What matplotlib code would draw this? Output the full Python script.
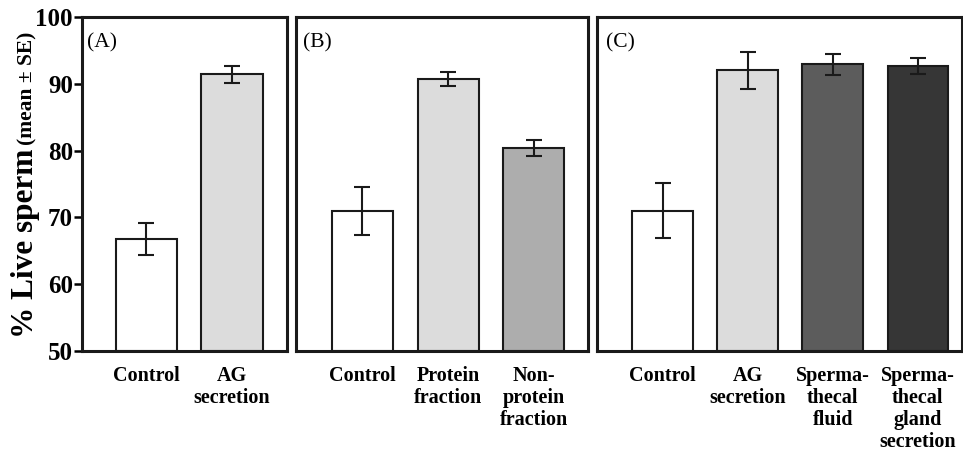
import matplotlib
matplotlib.use("Agg")
import matplotlib.pyplot as plt

plt.rcParams['font.family'] = ['Liberation Serif', 'DejaVu Serif']

# Values (mean, SE)
labels_a = ['Control', 'AG\nsecretion']
means_a = [66.7, 91.4]
se_a = [2.4, 1.3]

labels_b = ['Control', 'Protein\nfraction', 'Non-\nprotein\nfraction']
means_b = [71.0, 90.7, 80.4]
se_b = [3.6, 1.1, 1.2]

labels_c = ['Control', 'AG\nsecretion', 'Sperma-\nthecal\nfluid', 'Sperma-\nthecal\ngland\nsecretion']
means_c = [71.0, 92.0, 92.9, 92.7]
se_c = [4.1, 2.8, 1.6, 1.2]

colors_a = ['white', '#dcdcdc']
colors_b = ['white', '#dcdcdc', '#adadad']
colors_c = ['white', '#dcdcdc', '#5c5c5c', '#363636']

fig = plt.figure(figsize=(9.63, 4.51), dpi=100)
W, H = 963, 451


def add_panel(left, right, xlim, labels, means, se, colors, tag):
    ax = fig.add_axes([left / W, 1 - 351 / H, (right - left) / W, (351 - 17) / H])
    x = range(len(means))
    ax.bar(x, [m - 50 for m in means], bottom=50, width=0.71, color=colors,
           edgecolor='#1a1a1a', linewidth=1.5, zorder=2)
    ax.errorbar(x, means, yerr=se, fmt='none', ecolor='#1a1a1a',
                elinewidth=1.5, capsize=5.5, capthick=1.5, zorder=3)
    ax.set_xlim(*xlim)
    ax.set_ylim(50, 100)
    ax.set_xticks(list(x))
    ax.set_xticklabels(labels, fontsize=14.5, fontweight='bold', linespacing=1.12,
                       va='top')
    ax.tick_params(axis='x', length=0, pad=11)
    for s in ax.spines.values():
        s.set_linewidth(2.2)
        s.set_color('#1a1a1a')
    ax.text(0.025, 0.952, tag, transform=ax.transAxes, fontsize=15.5,
            ha='left', va='top')
    return ax


ax_a = add_panel(82, 287, (-0.745, 1.64), labels_a, means_a, se_a, colors_a, '(A)')
ax_a.set_yticks([50, 60, 70, 80, 90, 100])
ax_a.tick_params(axis='y', direction='out', length=6, width=1.8, pad=0.5,
                 labelsize=18)
for t in ax_a.get_yticklabels():
    t.set_fontweight('bold')

ax_b = add_panel(296, 588, (-0.77, 2.63), labels_b, means_b, se_b, colors_b, '(B)')
ax_b.set_yticks([])

ax_c = add_panel(597, 962, (-0.77, 3.52), labels_c, means_c, se_c, colors_c, '(C)')
ax_c.set_yticks([])

# y-axis label in two sizes, the small part placed right after the big one
t1 = fig.text(25 / W, 1 - 338 / H, '% Live sperm', rotation=90, fontsize=22.5,
              fontweight='bold', ha='center', va='bottom')
fig.canvas.draw()
top = t1.get_window_extent(fig.canvas.get_renderer()).y1
fig.text(27 / W, (top + 4) / H, '(mean \u00b1 SE)', rotation=90, fontsize=15.5,
         fontweight='bold', ha='center', va='bottom')

fig.savefig('out.png', dpi=100)
